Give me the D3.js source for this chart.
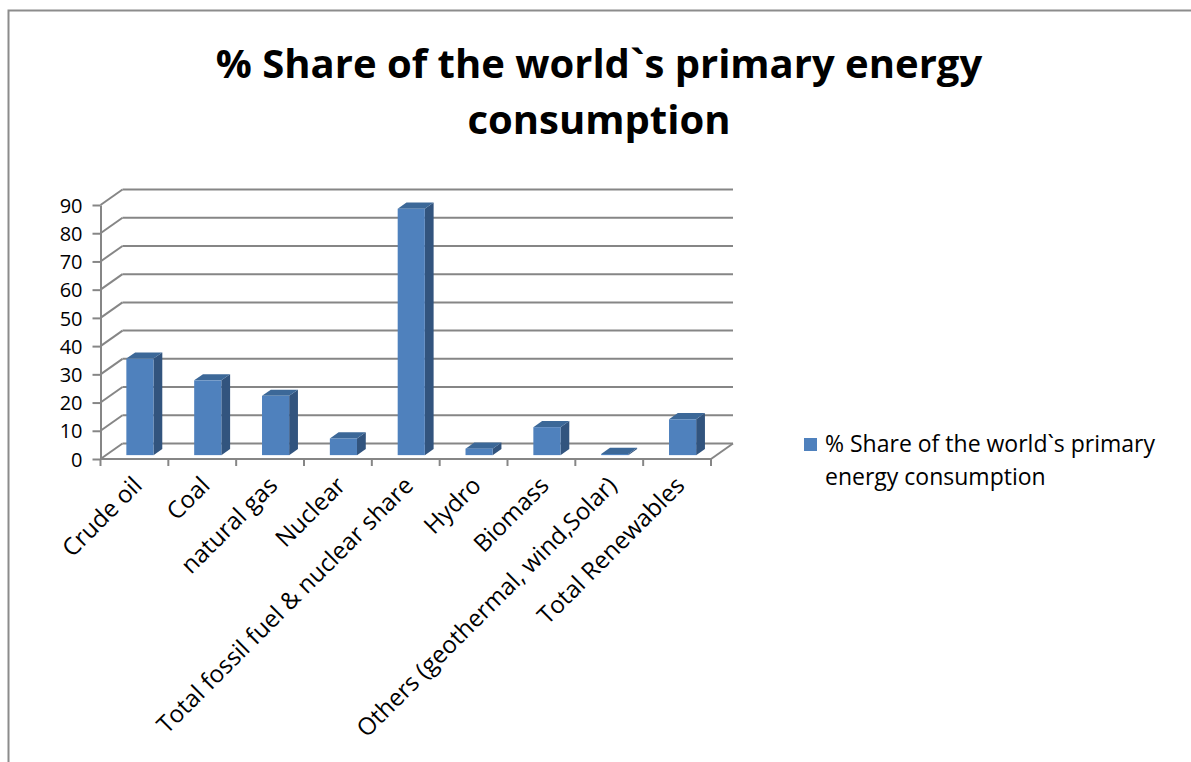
<!DOCTYPE html>
<html>
<head>
<meta charset="utf-8">
<script src="https://cdn.jsdelivr.net/npm/d3@7/dist/d3.min.js"></script>
<style>
  html, body { margin: 0; padding: 0; background: #fff; }
  svg { display: block; }
  text { font-family: "Open Sans", Lato, sans-serif; fill: #000; }
</style>
</head>
<body>
<svg id="chart" width="1191" height="762"></svg>
<script>
// Share of world primary energy consumption, by source (%)
const categories = [
  "Crude oil", "Coal", "natural gas", "Nuclear",
  "Total fossil fuel & nuclear share", "Hydro", "Biomass",
  "Others (geothermal, wind,Solar)", "Total Renewables"
];
const values = [34.2, 26.5, 21.0, 5.9, 87.3, 2.3, 9.9, 0.4, 12.7];
const yTicks = [0, 10, 20, 30, 40, 50, 60, 70, 80, 90];
const titleLines = ["% Share of the world`s primary energy", "consumption"];
const legendLines = ["% Share of the world`s primary", "energy consumption"];

const W = 1191, H = 762;
const svg = d3.select("#chart");

// outer chart frame (left and top edges visible)
svg.append("path")
  .attr("d", `M8.5,${H} L8.5,10.5 L${W},10.5`)
  .attr("fill", "none").attr("stroke", "#8c8c8c").attr("stroke-width", 2);

// title
const title = svg.append("text")
  .attr("text-anchor", "middle")
  .style("font-weight", "bold").style("font-size", "40px");
title.selectAll("tspan").data(titleLines).join("tspan")
  .attr("x", 599).attr("y", (d, i) => 78 + i * 56).text(d => d);

// plot geometry: oblique 3-D projection, depth offset (DX, DY)
const X0 = 100.5, X1 = 711;
const DX = 22, DY = -15.5;
const x = d3.scaleBand().domain(categories).range([X0, X1]);
const y = d3.scaleLinear().domain([0, 90]).range([459, 205]);

const grid = svg.append("g").attr("stroke", "#868686").attr("stroke-width", 2).attr("fill", "none");
// back-wall gridlines
grid.selectAll("line.back").data(yTicks).join("line").attr("class", "back")
  .attr("x1", X0 + DX).attr("x2", X1 + DX)
  .attr("y1", d => y(d) + DY).attr("y2", d => y(d) + DY);
// side-wall gridlines
grid.selectAll("line.side").data(yTicks).join("line").attr("class", "side")
  .attr("x1", X0).attr("x2", X0 + DX)
  .attr("y1", d => y(d)).attr("y2", d => y(d) + DY);
// floor right edge
grid.append("line")
  .attr("x1", X1).attr("y1", y(0)).attr("x2", X1 + DX).attr("y2", y(0) + DY);

// y axis
const yAxis = svg.append("g").attr("transform", `translate(${X0},0)`)
  .call(d3.axisLeft(y).tickValues(yTicks).tickSizeInner(8).tickSizeOuter(0).tickPadding(10));
yAxis.select(".domain").attr("stroke", "#868686").attr("stroke-width", 2);
yAxis.selectAll(".tick line").attr("stroke", "#868686").attr("stroke-width", 2);
yAxis.selectAll(".tick text").style("font-size", "20px")
  .style("font-family", "'Open Sans', sans-serif").attr("dy", "0.36em");

// x axis: front floor edge with ticks at category boundaries
const xAxisG = svg.append("g");
xAxisG.append("line").attr("x1", X0).attr("x2", X1).attr("y1", y(0)).attr("y2", y(0))
  .attr("stroke", "#868686").attr("stroke-width", 2);
const bounds = categories.map(c => x(c)).concat([X1]);
xAxisG.selectAll("line.tk").data(bounds).join("line").attr("class", "tk")
  .attr("x1", d => d).attr("x2", d => d).attr("y1", y(0)).attr("y2", y(0) + 7)
  .attr("stroke", "#868686").attr("stroke-width", 2);

// category labels, rotated
xAxisG.selectAll("text").data(categories).join("text")
  .attr("text-anchor", "end")
  .style("font-size", "24px")
  .attr("transform", d => `translate(${x(d) + x.bandwidth() / 2 + 9},${487}) rotate(-45)`)
  .text(d => d);

// 3-D columns
const d0 = 0.25, d1 = 0.65;
const bw = x.bandwidth() * 0.4;
const colFront = "#4f81bd", colTop = "#3c6898", colSide = "#32547e";
const bars = svg.append("g");
categories.forEach((c, i) => {
  const v = values[i];
  const fx = x(c) + (x.bandwidth() - bw) / 2 + d0 * DX;
  const fy0 = y(0) + d0 * DY, fy1 = y(v) + d0 * DY;
  const ox = (d1 - d0) * DX, oy = (d1 - d0) * DY;
  const g = bars.append("g");
  // side face
  g.append("path")
    .attr("d", `M${fx + bw},${fy1} L${fx + bw + ox},${fy1 + oy} L${fx + bw + ox},${fy0 + oy} L${fx + bw},${fy0} Z`)
    .attr("fill", colSide);
  // top face
  g.append("path")
    .attr("d", `M${fx},${fy1} L${fx + ox},${fy1 + oy} L${fx + bw + ox},${fy1 + oy} L${fx + bw},${fy1} Z`)
    .attr("fill", colTop);
  // front face
  g.append("rect").attr("x", fx).attr("y", fy1).attr("width", bw).attr("height", fy0 - fy1)
    .attr("fill", colFront);
});

// legend
const lg = svg.append("g");
lg.append("rect").attr("x", 804).attr("y", 438).attr("width", 13).attr("height", 13).attr("fill", colFront);
const lt = lg.append("text").style("font-size", "23px");
lt.selectAll("tspan").data(legendLines).join("tspan")
  .attr("x", 825).attr("y", (d, i) => 452 + i * 33).text(d => d);
</script>
</body>
</html>
